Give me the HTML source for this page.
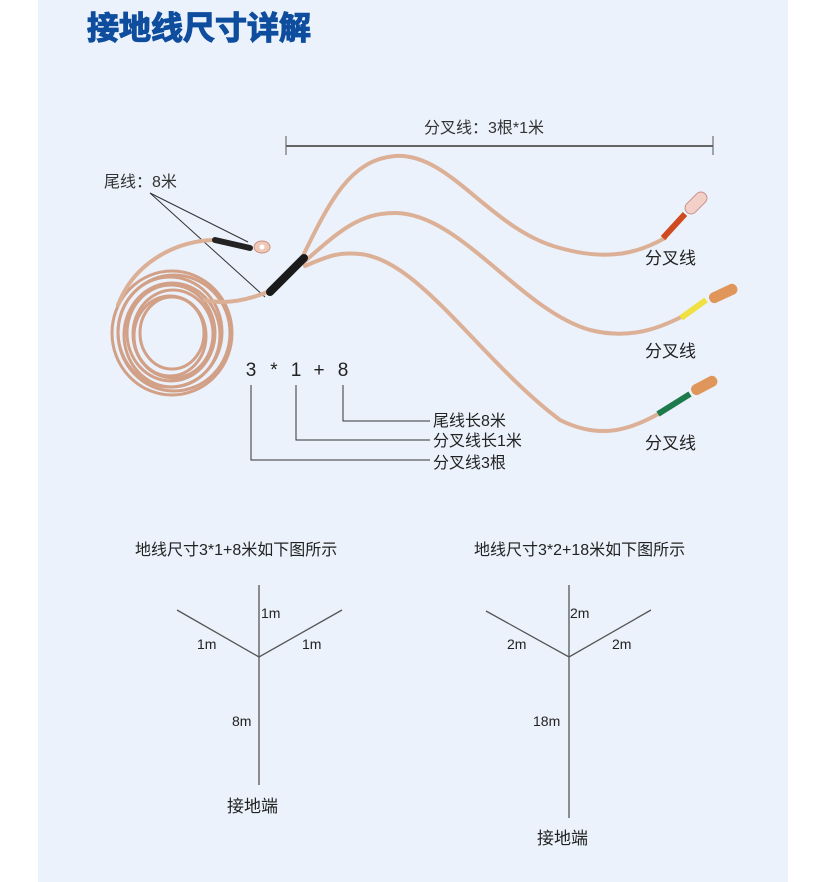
<!DOCTYPE html>
<html><head><meta charset="utf-8"><style>
html,body{margin:0;padding:0;background:#fff}
body{width:824px;height:882px;position:relative;overflow:hidden;font-family:"Liberation Sans","Noto Sans CJK SC",sans-serif}
#p{position:absolute;left:38px;top:0;width:750px;height:882px;background:#ebf2fb}
</style></head><body>
<div id="p"></div>
<svg width="824" height="882" style="position:absolute;left:0;top:0" font-family="Liberation Sans, Noto Sans CJK SC, sans-serif">
<text x="87" y="39" font-size="32" font-weight="bold" fill="#0f4d9e" stroke="#0f4d9e" stroke-width="1.2" font-family="Noto Sans CJK SC, sans-serif">接地线尺寸详解</text>
<text x="424" y="133" font-size="16" fill="#333">分叉线：3根*1米</text>
<line x1="286" y1="146" x2="713" y2="146" stroke="#666" stroke-width="2"/>
<line x1="286" y1="136" x2="286" y2="155" stroke="#555" stroke-width="1"/>
<line x1="713" y1="136" x2="713" y2="155" stroke="#555" stroke-width="1"/>
<text x="104" y="187" font-size="16" fill="#333">尾线：8米</text>
<line x1="150" y1="193" x2="248" y2="242" stroke="#333" stroke-width="1"/>
<line x1="150" y1="193" x2="265" y2="297" stroke="#333" stroke-width="1"/>
<!-- coil -->
<g fill="none" stroke="#d2a086" stroke-width="3">
<ellipse cx="172" cy="333" rx="60" ry="62"/>
<ellipse cx="174" cy="333" rx="56" ry="58"/>
<ellipse cx="170" cy="332" rx="52" ry="55"/>
<ellipse cx="172" cy="335" rx="48" ry="52"/>
<ellipse cx="171" cy="333" rx="44" ry="48"/>
<ellipse cx="173" cy="334" rx="40" ry="44"/>
<ellipse cx="170" cy="336" rx="36" ry="40"/>
<ellipse cx="172" cy="333" rx="32" ry="36"/>
</g>
<g fill="none" stroke="#dcb096" stroke-width="4" stroke-linecap="round">
<path d="M118 305 C135 260 180 240 215 240"/>
<path d="M205 300 C225 305 250 300 272 290"/>
<path d="M300 262 C330 200 350 160 395 156 C450 152 490 230 560 248 C610 262 640 252 665 238"/>
<path d="M303 263 C340 230 360 213 395 213 C460 213 520 310 590 330 C630 340 660 328 683 316"/>
<path d="M305 266 C330 255 340 252 360 254 C420 260 480 360 560 420 C600 440 630 430 660 413"/>
</g>
<path d="M215 240 L250 248" stroke="#222" stroke-width="6" stroke-linecap="round"/>
<ellipse cx="262" cy="247" rx="8" ry="6" fill="#f0c8b8" stroke="#c89080"/>
<circle cx="262" cy="247" r="2.5" fill="#fff"/>
<path d="M270 292 L304 258" stroke="#1a1a1a" stroke-width="8" stroke-linecap="round"/>
<path d="M663 238 L685 214" stroke="#d04a20" stroke-width="6"/>
<rect x="683" y="197" width="26" height="12" rx="6" fill="#f2d0c8" stroke="#c89088" transform="rotate(-45 696 203)"/>
<path d="M681 318 L706 300" stroke="#f0e040" stroke-width="6"/>
<rect x="708" y="288" width="30" height="11" rx="5" fill="#e0955a" transform="rotate(-25 723 293)"/>
<path d="M658 414 L690 394" stroke="#1d7a4a" stroke-width="6"/>
<rect x="690" y="380" width="28" height="11" rx="5" fill="#e0955a" transform="rotate(-28 704 385)"/>
<g font-size="17" fill="#222">
<text x="645" y="264">分叉线</text>
<text x="645" y="357">分叉线</text>
<text x="645" y="449">分叉线</text>
</g>
<g font-size="19" fill="#222" text-anchor="middle">
<text x="251" y="376">3</text><text x="274" y="376">*</text><text x="296" y="376">1</text><text x="319" y="376">+</text><text x="343" y="376">8</text>
</g>
<g fill="none" stroke="#333" stroke-width="1">
<path d="M251 385 V460 H430"/>
<path d="M296 385 V440 H430"/>
<path d="M343 385 V421 H430"/>
</g>
<g font-size="16" fill="#222">
<text x="433" y="426">尾线长8米</text>
<text x="433" y="446">分叉线长1米</text>
<text x="433" y="468">分叉线3根</text>
</g>
<g font-size="16" fill="#222">
<text x="135" y="555">地线尺寸3*1+8米如下图所示</text>
<text x="474" y="555">地线尺寸3*2+18米如下图所示</text>
</g>
<g stroke="#555" stroke-width="1.3" fill="none">
<path d="M259 585 V785"/><path d="M177 610 L259 657 L342 610"/>
<path d="M569 585 V818"/><path d="M486 611 L569 657 L651 610"/>
</g>
<g font-size="14" fill="#222">
<text x="261" y="618">1m</text><text x="197" y="649">1m</text><text x="302" y="649">1m</text><text x="232" y="726">8m</text>
<text x="570" y="618">2m</text><text x="507" y="649">2m</text><text x="612" y="649">2m</text><text x="533" y="726">18m</text>
</g>
<g font-size="17" fill="#222">
<text x="227" y="812">接地端</text>
<text x="537" y="844">接地端</text>
</g>
</svg>
</body></html>
